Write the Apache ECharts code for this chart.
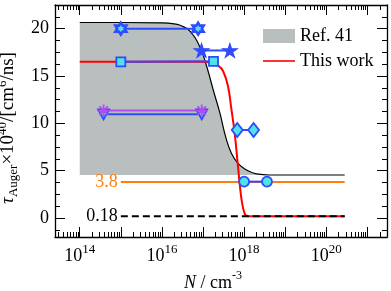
<!DOCTYPE html>
<html><head><meta charset="utf-8">
<script src="https://cdn.jsdelivr.net/npm/echarts@6/dist/echarts.min.js"></script>
<style>html,body{margin:0;padding:0;background:#fff}#c{width:391px;height:291px}</style>
</head><body><div id="c"></div>
<script>
// ---- data ----
const refN   = [1e14, 1e15, 1e16, 2.34e16, 3.16e16, 4.79e16, 8.32e16, 1.23e17, 1.78e17, 2.57e17, 3.55e17, 4.9e17, 7.08e17, 1.15e18, 2.0e18, 4.17e18, 2.8e20];
const refTau = [20.65, 20.65, 20.62, 20.45, 20.25, 19.75, 18.1, 16.0, 13.5, 11.1, 8.6, 6.85, 5.78, 5.08, 4.66, 4.55, 4.55];
const refBase = 4.55;
const thisN   = [1e14, 7.9e16, 1.58e17, 2.34e17, 3.09e17, 4.07e17, 4.9e17, 5.89e17, 7.08e17, 8.7e17, 1.05e18, 1.26e18, 1.58e18, 2.8e20];
const thisTau = [16.5, 16.5, 16.4, 16.1, 15.5, 13.9, 11.5, 9.0, 5.5, 1.9, 0.4, 0.2, 0.18, 0.18];
const hexN = [1e15, 7.6e16],   hexTau = [20.0, 20.0];
const starN = [9.2e16, 4.5e17], starTau = [17.7, 17.7];
const sqN = [1e15, 1.8e17],    sqTau = [16.5, 16.55];
const astN = [3.8e14, 9.3e16], astTau = [11.35, 11.35];
const triN = [3.8e14, 9.3e16], triTau = [10.95, 10.95];
const diaN = [6.8e17, 1.7e18], diaTau = [9.3, 9.3];
const cirN = [1e18, 3.6e18],   cirTau = [3.85, 3.85];
const orangeN = [1e15, 2.8e20], orangeTau = [3.8, 3.8];
const dashN = [1e15, 2.8e20],   dashTau = [0.18, 0.18];
const xMajor = [1e14, 1e15, 1e16, 1e17, 1e18, 1e19, 1e20, 1e21];
const xLabels = [1e14, 1e16, 1e18, 1e20];
const yMajor = [0, 5, 10, 15, 20];
const xMin = 2.5e13, xMax = 3e21, yMin = -2, yMax = 22.5;

const xMinor = [];
for (let d = 13; d <= 21; d++) for (let k = 2; k <= 9; k++) { const v = k * Math.pow(10, d); if (v > xMin && v < xMax) xMinor.push(v); }
const yMinor = [];
for (let v = -1.25; v <= 22.5; v += 1.25) if (Math.abs(v % 5) > 1e-9) yMinor.push(v);

const FONT = 'Liberation Serif';
const BLUE = '#2f4bff', CYAN = '#4fe3e6', PURPLE = '#b04cf2', GRAY = '#b8bfbe';
const zip = (a, b) => a.map((v, i) => [v, b[i]]);

const HEX = 'path://M0,-10 L2.887,-5 L8.66,-5 L5.774,0 L8.66,5 L2.887,5 L0,10 L-2.887,5 L-8.66,5 L-5.774,0 L-8.66,-5 L-2.887,-5 Z';
const STAR = 'path://M0,-10 L2.245,-3.09 L9.511,-3.09 L3.633,1.18 L5.878,8.09 L0,3.82 L-5.878,8.09 L-3.633,1.18 L-9.511,-3.09 L-2.245,-3.09 Z';
const AST = 'path://M0,-10 L0,10 M-10,0 L10,0 M-7,-7 L7,7 M-7,7 L7,-7';
const LEGLINE = 'path://M0,0 L0,0 M0,6.2 L32,6.2 L32,7.8 L0,7.8 Z M32,14 L32,14';

function xAx(pos, ticks, len, labels, line, name) {
  return {
    type: 'log', min: xMin, max: xMax, position: pos,
    axisLine: { show: line, onZero: false, lineStyle: { color: '#000', width: 1.3 } },
    axisTick: { show: true, inside: true, length: len, customValues: ticks, lineStyle: { color: '#000', width: 1 } },
    axisLabel: labels ? {
      show: true, customValues: labels, margin: 6,
      formatter: v => '{b|10}{s|' + Math.round(Math.log10(v)) + '}',
      rich: { b: { fontFamily: FONT, fontSize: 18, color: '#000', verticalAlign: 'bottom', lineHeight: 22 },
              s: { fontFamily: FONT, fontSize: 13, color: '#000', verticalAlign: 'top', lineHeight: 22 } }
    } : { show: false },
    splitLine: { show: false }, minorTick: { show: false },
    name: name || '', nameLocation: 'middle', nameGap: 28,
    nameTextStyle: { padding: [0, 16, 0, 0], rich: {
      i: { fontFamily: FONT, fontStyle: 'italic', fontSize: 18, color: '#000', verticalAlign: 'bottom', lineHeight: 22 },
      n: { fontFamily: FONT, fontSize: 18, color: '#000', verticalAlign: 'bottom', lineHeight: 22 },
      sup: { fontFamily: FONT, fontSize: 12, color: '#000', verticalAlign: 'top', lineHeight: 22 } } }
  };
}
function yAx(pos, ticks, len, labels, line, name) {
  return {
    type: 'value', min: yMin, max: yMax, position: pos,
    axisLine: { show: line, onZero: false, lineStyle: { color: '#000', width: 1.3 } },
    axisTick: { show: true, inside: true, length: len, customValues: ticks, lineStyle: { color: '#000', width: 1 } },
    axisLabel: labels ? { show: true, customValues: labels, margin: 6, fontFamily: FONT, fontSize: 18, color: '#000' } : { show: false },
    splitLine: { show: false },
    name: name || '', nameLocation: 'middle', nameGap: 32,
    nameTextStyle: { padding: [0, 14, 0, 0], rich: {
      i: { fontFamily: FONT, fontStyle: 'italic', fontSize: 19, color: '#000', verticalAlign: 'middle', lineHeight: 24 },
      n: { fontFamily: FONT, fontSize: 19, color: '#000', verticalAlign: 'middle', lineHeight: 24 },
      sub: { fontFamily: FONT, fontSize: 13, color: '#000', verticalAlign: 'bottom', lineHeight: 24 },
      sup: { fontFamily: FONT, fontSize: 13, color: '#000', verticalAlign: 'top', lineHeight: 24 } } }
  };
}

function pair(name, xs, ys, symbol, size, color, fill, bw, lineColor, extra) {
  return Object.assign({
    name: name, type: 'line', data: zip(xs, ys), symbol: symbol, symbolSize: size,
    showSymbol: true, z: 10,
    lineStyle: { color: lineColor || BLUE, width: 2 },
    itemStyle: { color: fill, borderColor: color, borderWidth: bw, opacity: 1 },
    emphasis: { disabled: true }
  }, extra || {});
}

const chart = echarts.init(document.getElementById('c'), null, { renderer: 'canvas' });
chart.setOption({
  animation: false,
  grid: { left: 55, right: 4, top: 5, bottom: 54, containLabel: false, outerBoundsMode: 'none' },
  legend: {
    orient: 'vertical', left: 258, top: 22, itemWidth: 32, itemHeight: 14, itemGap: 7,
    textStyle: { fontFamily: FONT, fontSize: 18, color: '#000' },
    data: [
      { name: 'Ref. 41', icon: 'rect', itemStyle: { color: GRAY, borderWidth: 0 } },
      { name: 'This work', icon: LEGLINE, itemStyle: { color: '#ff0000', borderWidth: 0 } }
    ]
  },
  xAxis: [
    xAx('bottom', xMajor, 10, xLabels, true, '{i|N}{n| / cm}{sup|-3}'),
    xAx('bottom', xMinor, 5, null, false),
    xAx('top', xMajor, 10, null, true),
    xAx('top', xMinor, 5, null, false)
  ],
  yAxis: [
    yAx('left', yMajor, 10, yMajor, true, '{i|τ}{sub|Auger}{n|×10}{sup|40}{n|/[cm}{sup|6}{n|/ns]}'),
    yAx('left', yMinor, 5, null, false),
    yAx('right', yMajor, 10, null, true),
    yAx('right', yMinor, 5, null, false)
  ],
  series: [
    { name: 'Ref. 41', type: 'line', data: zip(refN, refTau), smooth: 0.5, symbol: 'none', z: 1,
      lineStyle: { color: '#000', width: 1.2 }, itemStyle: { color: GRAY },
      areaStyle: { color: GRAY, opacity: 1, origin: refBase } },
    { name: 'orange', type: 'line', data: zip(orangeN, orangeTau), symbol: 'circle', symbolSize: 0, showSymbol: true, z: 3,
      lineStyle: { color: '#ff7f0e', width: 2 }, itemStyle: { color: '#ff7f0e' },
      label: { show: true, position: 'left', distance: 3, fontFamily: FONT, fontSize: 18, color: '#ff7f0e',
               formatter: p => p.dataIndex === 0 ? String(p.value[1]) : '' } },
    { name: 'This work', type: 'line', data: zip(thisN, thisTau), smooth: 0.4, symbol: 'none', z: 4,
      lineStyle: { color: '#ff0000', width: 2 }, itemStyle: { color: '#ff0000' } },
    { name: 'dash', type: 'line', data: zip(dashN, dashTau), symbol: 'circle', symbolSize: 0, showSymbol: true, z: 5,
      lineStyle: { color: '#000', width: 2, type: [7, 4] }, itemStyle: { color: '#000' },
      label: { show: true, position: 'left', distance: 3, fontFamily: FONT, fontSize: 18, color: '#000',
               formatter: p => p.dataIndex === 0 ? String(p.value[1]) : '' } },
    pair('hex', hexN, hexTau, HEX, [11, 12], BLUE, CYAN, 2.6),
    pair('star', starN, starTau, STAR, [15, 14], BLUE, BLUE, 1),
    pair('sq', sqN, sqTau, 'rect', 9, BLUE, CYAN, 1.8),
    pair('tri', triN, triTau, 'triangle', [11, 10], BLUE, CYAN, 1.8, BLUE, { symbolRotate: 180 }),
    pair('ast', astN, astTau, AST, 12, PURPLE, 'none', 1.8, PURPLE),
    pair('dia', diaN, diaTau, 'diamond', [11, 14], BLUE, CYAN, 1.8),
    pair('cir', cirN, cirTau, 'circle', 10, BLUE, CYAN, 1.8)
  ]
});
</script></body></html>
